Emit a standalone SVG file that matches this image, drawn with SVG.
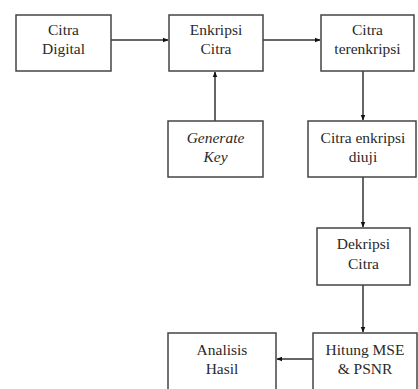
<svg xmlns="http://www.w3.org/2000/svg" width="418" height="389" viewBox="0 0 418 389">
<style>
.box{fill:#fff;stroke:#444;stroke-width:1.5}
.t{font-size:15.5px;fill:#2a2a2a;text-anchor:middle}
.i{font-style:italic}
.c{stroke:#333;stroke-width:1.5;fill:none;marker-end:url(#ah)}
</style>
<defs>
<marker id="ah" viewBox="0 0 10 10" refX="9" refY="5" markerWidth="6" markerHeight="6" markerUnits="userSpaceOnUse" orient="auto">
<path d="M0,1 L10,5 L0,9 z" fill="#111"/>
</marker>
</defs>
<rect width="418" height="389" fill="#fff"/>
<g id="connectors">
<line class="c" x1="111" y1="40" x2="168" y2="40"/>
<line class="c" x1="263" y1="40" x2="320" y2="40"/>
<line class="c" x1="215" y1="121" x2="215" y2="72"/>
<line class="c" x1="363" y1="71" x2="363" y2="120"/>
<line class="c" x1="363" y1="177" x2="363" y2="227"/>
<line class="c" x1="363" y1="285" x2="363" y2="332"/>
<line class="c" x1="313" y1="359" x2="277" y2="359"/>
</g>
<g font-family="Liberation Serif, serif">
<g id="citra-digital">
<rect class="box" x="16" y="15" width="95" height="56"/>
<text class="t" x="63.5" y="35">Citra</text>
<text class="t" x="63.5" y="54">Digital</text>
</g>
<g id="enkripsi-citra">
<rect class="box" x="169" y="15" width="94" height="56"/>
<text class="t" x="216" y="35">Enkripsi</text>
<text class="t" x="216" y="54">Citra</text>
</g>
<g id="citra-terenkripsi">
<rect class="box" x="321" y="15" width="93" height="56"/>
<text class="t" x="367.5" y="35">Citra</text>
<text class="t" x="367.5" y="54">terenkripsi</text>
</g>
<g id="generate-key">
<rect class="box" x="168" y="121" width="95" height="56"/>
<text class="t i" x="215.5" y="143">Generate</text>
<text class="t i" x="215.5" y="162">Key</text>
</g>
<g id="citra-enkripsi-diuji">
<rect class="box" x="308" y="121" width="108" height="56"/>
<text class="t" x="363" y="143">Citra enkripsi</text>
<text class="t" x="363" y="162">diuji</text>
</g>
<g id="dekripsi-citra">
<rect class="box" x="317" y="228" width="93" height="57"/>
<text class="t" x="363.5" y="249">Dekripsi</text>
<text class="t" x="363.5" y="269">Citra</text>
</g>
<g id="hitung-mse">
<rect class="box" x="313" y="333" width="104" height="60"/>
<text class="t" x="365" y="355">Hitung MSE</text>
<text class="t" x="365" y="374">&amp; PSNR</text>
</g>
<g id="analisis-hasil">
<rect class="box" x="168" y="333" width="108" height="60"/>
<text class="t" x="222" y="355">Analisis</text>
<text class="t" x="222" y="374">Hasil</text>
</g>
</g>
</svg>
